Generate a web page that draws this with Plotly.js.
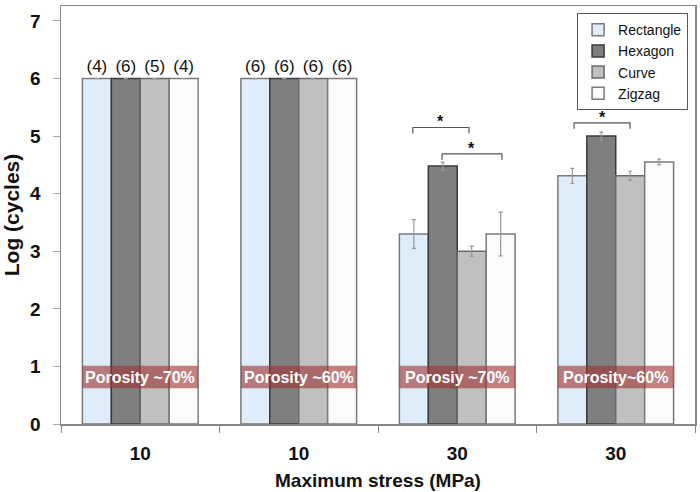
<!DOCTYPE html>
<html>
<head>
<meta charset="utf-8">
<script src="https://cdn.plot.ly/plotly-3.0.1.min.js"></script>
<style>html,body{margin:0;padding:0;background:#fff;}#chart{width:700px;height:492px;}</style>
</head>
<body>
<div id="chart"></div>
<script>
const groupPos = [0, 1, 2, 3];
const tickLabels = ['10', '10', '30', '30'];
const seriesNames = ['Rectangle', 'Hexagon', 'Curve', 'Zigzag'];
const rectangle = [6, 6, 3.3, 4.31];
const hexagon = [6, 6, 4.48, 5.0];
const curve = [6, 6, 3.0, 4.31];
const zigzag = [6, 6, 3.3, 4.55];
const rectangleErr = [0, 0, 0.25, 0.13];
const hexagonErr = [0, 0, 0.07, 0.07];
const curveErr = [0, 0, 0.09, 0.08];
const zigzagErr = [0, 0, 0.38, 0.05];
const rectangleN = ['(4)', '(6)', '', ''];
const hexagonN = ['(6)', '(6)', '', ''];
const curveN = ['(5)', '(6)', '', ''];
const zigzagN = ['(4)', '(6)', '', ''];
const porosityLabels = ['Porosity ~70%', 'Porosity ~60%', 'Porosiy ~70%', 'Porosity~60%'];
const sigBrackets = [ // [x0, x1, y]
  [1.72, 2.074, 5.15],
  [1.904, 2.282, 4.69],
  [2.737, 3.09, 5.23]
];

const values = [rectangle, hexagon, curve, zigzag];
const errs = [rectangleErr, hexagonErr, curveErr, zigzagErr];
const counts = [rectangleN, hexagonN, curveN, zigzagN];
const fills = ['#deedf9', '#7f7f7f', '#c0c0c0', '#fbfbfb'];
const lines = ['#7a7a7a', '#3a3a3a', '#6a6a6a', '#7a7a7a'];

const FONT = 'Arial, "Liberation Sans", sans-serif';

const traces = seriesNames.map((n, i) => ({
  type: 'bar',
  name: n,
  x: groupPos,
  y: values[i],
  text: counts[i],
  textposition: 'outside',
  constraintext: 'none',
  cliponaxis: false,
  textfont: {family: FONT, size: 17, color: '#111'},
  marker: {color: fills[i], line: {color: lines[i], width: 1.5}},
  error_y: {type: 'data', array: errs[i], visible: true, color: '#999', thickness: 1.2, width: 2},
  hoverinfo: 'skip'
}));

const shapes = [];
const annotations = [];
groupPos.forEach((g, i) => {
  shapes.push({type: 'rect', xref: 'x', yref: 'y', x0: g - 0.365, x1: g + 0.365, y0: 0.62, y1: 1.01,
    fillcolor: 'rgba(158,52,52,0.62)', line: {width: 0}, layer: 'above'});
  annotations.push({x: g, y: 0.815, xref: 'x', yref: 'y', text: '<b>' + porosityLabels[i] + '</b>',
    showarrow: false, font: {family: FONT, size: 16, color: '#fff'}});
});
sigBrackets.forEach(b => {
  shapes.push({type: 'path', xref: 'x', yref: 'y',
    path: `M ${b[0]} ${b[2] - 0.1} L ${b[0]} ${b[2]} L ${b[1]} ${b[2]} L ${b[1]} ${b[2] - 0.1}`,
    line: {color: '#555', width: 1.2}});
  annotations.push({x: (b[0] + b[1]) / 2, y: b[2], xref: 'x', yref: 'y', yanchor: 'bottom', yshift: -5,
    text: '<b>*</b>', showarrow: false, font: {family: FONT, size: 16, color: '#111'}});
});

const layout = {
  width: 700, height: 492,
  margin: {l: 61, r: 5, t: 6, b: 68},
  paper_bgcolor: '#fff', plot_bgcolor: '#fff',
  barmode: 'group', bargap: 0.27, bargroupgap: 0,
  showlegend: true,
  legend: {x: 0.814, y: 0.983, xanchor: 'left', yanchor: 'top', bgcolor: '#fff',
    bordercolor: '#555', borderwidth: 1, font: {family: FONT, size: 14, color: '#111'},
    tracegroupgap: 0, itemwidth: 30},
  xaxis: {
    range: [-0.5, 3.5], tickmode: 'array', tickvals: groupPos, ticktext: tickLabels,
    ticks: '', showgrid: false, zeroline: false, ticklabelstandoff: 12,
    showline: true, linecolor: '#888', linewidth: 1.5, mirror: true,
    tickfont: {family: FONT, size: 19, color: '#111', weight: 'bold'},
    minor: {tickmode: 'array', tickvals: [-0.5, 0.5, 1.5, 2.5, 3.5], ticks: 'outside', ticklen: 7, tickcolor: '#888', showgrid: false},
    title: {text: '<b>Maximum stress (MPa)</b>', font: {family: FONT, size: 19, color: '#111'}, standoff: 10}
  },
  yaxis: {
    range: [0, 7.26], tickmode: 'array', tickvals: [0, 1, 2, 3, 4, 5, 6, 7],
    ticks: 'outside', ticklen: 7, tickcolor: '#aaa', showgrid: false, zeroline: false,
    ticklabelstandoff: 8,
    showline: true, linecolor: '#888', linewidth: 1.5, mirror: true,
    tickfont: {family: FONT, size: 19, color: '#111', weight: 'bold'},
    title: {text: '<b>Log (cycles)</b>', font: {family: FONT, size: 21, color: '#111'}, standoff: 6}
  },
  shapes: shapes,
  annotations: annotations
};

Plotly.newPlot('chart', traces, layout, {displayModeBar: false, staticPlot: true});
</script>
</body>
</html>
